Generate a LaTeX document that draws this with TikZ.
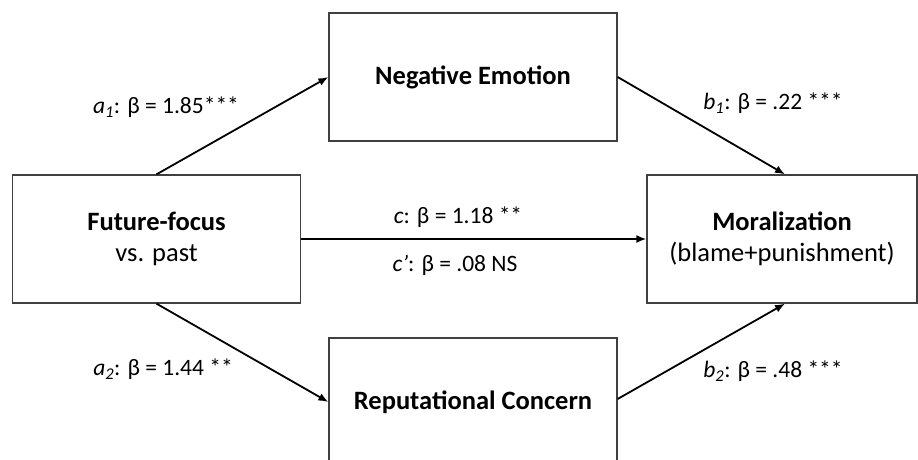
\documentclass[tikz,border=0pt]{standalone}
\usepackage{fontspec}
\setmainfont{Carlito}
\usetikzlibrary{arrows.meta}
\begin{document}
\begin{tikzpicture}[x=1pt,y=1pt,
  every node/.style={font=\fontsize{23.5}{28}\selectfont},
  var/.style={draw=black!75,line width=1.3pt,minimum width=288pt,minimum height=128pt,
    align=center,inner sep=0pt,font=\fontsize{26.5}{31}\selectfont},
  arr/.style={-{Latex[length=10pt,width=8pt]},line width=1.8pt},
  coef/.style={inner sep=1pt}]
\clip (0,0) rectangle (918,459);
% boxes
\node[var] (ff) at (156.5,220) {\textbf{Future-focus}\\vs. past};
\node[var] (ne) at (473,382) {\textbf{Negative Emotion}};
\node[var] (rc) at (473,57) {\textbf{Reputational Concern}};
\node[var,minimum width=270pt] (mo) at (782,220) {\textbf{Moralization}\\(blame+punishment)};
% paths
\draw[arr] (ff.north) -- (ne.west);
\draw[arr] (ne.east) -- ([xshift=3pt]mo.north);
\draw[arr] (ff.east) -- (mo.west);
\draw[arr] (ff.south) -- (rc.west);
\draw[arr] ([yshift=3pt]rc.east) -- ([xshift=3pt]mo.south);
% coefficients
\node[coef] (a1) at (166,352) {\textit{a\textsubscript{1}}: β = 1.85***};
\node[coef] (b1) at (773,356) {\textit{b\textsubscript{1}}: β = .22 ***};
\node[coef] (c) at (458,242) {\textit{c}: β = 1.18 **};
\node[coef] (cp) at (455,194) {\textit{c'}: β = .08 NS};
\node[coef] (a2) at (163,90) {\textit{a\textsubscript{2}}: β = 1.44 **};
\node[coef] (b2) at (773,88) {\textit{b\textsubscript{2}}: β = .48 ***};
\end{tikzpicture}
\end{document}
